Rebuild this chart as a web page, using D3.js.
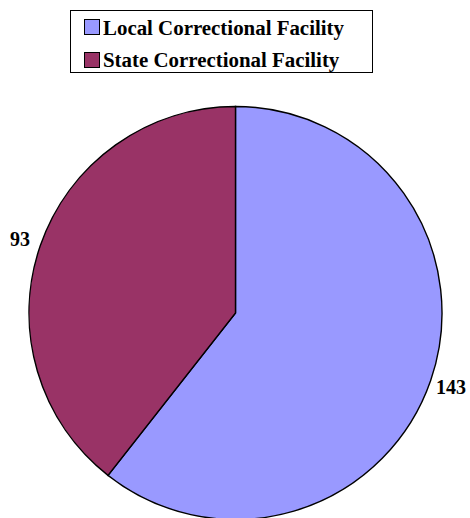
<!DOCTYPE html>
<html>
<head>
<meta charset="utf-8">
<script src="https://cdn.jsdelivr.net/npm/d3@7"></script>
<style>
  body { margin: 0; background: #fff; }
</style>
</head>
<body>
<div class="chart"></div>
<script>
const categories = ["Local Correctional Facility", "State Correctional Facility"];
const counts = [143, 93];
const colors = ["#9999FF", "#993366"];

const width = 470, height = 518;
const serif = "'Liberation Serif', 'Times New Roman', Times, serif";

const svg = d3.select(".chart").append("svg")
    .attr("width", width)
    .attr("height", height);

const data = categories.map((c, i) => ({name: c, value: counts[i]}));

const colorScale = d3.scaleOrdinal()
    .domain(categories)
    .range(colors);

const pie = d3.pie()
    .sort(null)
    .value(d => d.value);

const radius = 206.5;
const arc = d3.arc().innerRadius(0).outerRadius(radius);
const labelArc = d3.arc().innerRadius(228).outerRadius(228);

const g = svg.append("g")
    .attr("transform", "translate(235.5,313)");

const slices = pie(data);

g.selectAll("path")
    .data(slices)
    .enter()
    .append("path")
    .attr("d", arc)
    .attr("fill", d => colorScale(d.data.name))
    .attr("stroke", "#000")
    .attr("stroke-width", 1.4);

g.selectAll(".label")
    .data(slices)
    .enter()
    .append("text")
    .attr("class", "label")
    .attr("transform", d => "translate(" + labelArc.centroid(d) + ")")
    .attr("text-anchor", "middle")
    .attr("dy", "0.35em")
    .attr("font-family", serif)
    .attr("font-weight", "bold")
    .attr("font-size", 20)
    .text(d => d.data.value);

// legend
const legend = svg.append("g");

legend.append("rect")
    .attr("x", 70.5)
    .attr("y", 10.5)
    .attr("width", 302)
    .attr("height", 62)
    .attr("fill", "#fff")
    .attr("stroke", "#000")
    .attr("stroke-width", 1);

legend.selectAll(".legend-color")
    .data(categories)
    .enter()
    .append("rect")
    .attr("class", "legend-color")
    .attr("x", 84.5)
    .attr("y", (d, i) => 19.5 + i * 33)
    .attr("width", 15)
    .attr("height", 15)
    .attr("fill", d => colorScale(d))
    .attr("stroke", "#000")
    .attr("stroke-width", 1);

legend.selectAll(".legend-text")
    .data(categories)
    .enter()
    .append("text")
    .attr("class", "legend-text")
    .attr("x", 103)
    .attr("y", (d, i) => 34.5 + i * 32)
    .attr("font-family", serif)
    .attr("font-weight", "bold")
    .attr("font-size", 20.9)
    .text(d => d);
</script>
</body>
</html>
